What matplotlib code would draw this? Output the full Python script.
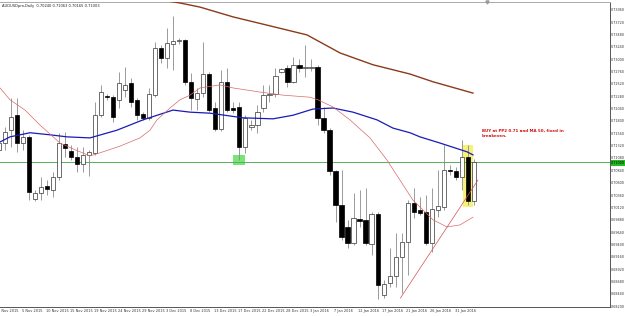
import matplotlib
matplotlib.use("Agg")
import matplotlib.pyplot as plt
import matplotlib.transforms as mtransforms
from matplotlib.patches import Rectangle
import numpy as np

# ---------------- data ----------------
title_text = "AUDUSDpro,Daily  0.70240 0.71063 0.70165 0.71003"
note_text = "BUY at PP2 0.71 and MA 50, fixed in\nbreakeven."

first_bar = -1  # bar index of the first candle (1 Nov 2015)
opens = [
    .7124, .7137, .7162, .7191, .7137, .7149, .7028, .7040, .7054, .7046,
    .7071, .7135, .7122, .7110, .7096, .7114, .7118, .7191, .7228, .7226,
    .7221, .7240, .7254, .7221, .7193, .7186, .7230, .7322, .7302, .7329,
    .7335, .7337, .7256, .7223, .7234, .7271, .7205, .7164, .7256, .7205,
    .7207, .7129, .7168, .7172, .7205, .7230, .7232, .7275, .7283, .7256,
    .7289, .7283, .7282, .7285, .7186, .7162, .7083, .7017, .6974, .6943,
    .6990, .6988, .6941, .6999, .6842, .6865, .6879, .6916, .6945, .7021,
    .7007, .7003, .6943, .7007, .7013, .7085, .7083, .7071, .7110, .70240]
highs = [
    .7143, .7168, .7225, .7225, .7162, .7153, .7046, .7071, .7065, .7081,
    .7157, .7158, .7133, .7129, .7129, .7124, .7217, .7250, .7232, .7230,
    .7275, .7285, .7263, .7225, .7197, .7244, .7333, .7327, .7360, .7384,
    .7341, .7339, .7273, .7244, .7333, .7275, .7217, .7279, .7283, .7217,
    .7217, .7191, .7182, .7211, .7250, .7250, .7283, .7283, .7289, .7304,
    .7300, .7327, .7300, .7289, .7207, .7166, .7085, .7085, .6988, .7040,
    .7046, .7050, .7003, .7003, .6871, .6933, .6962, .6962, .7026, .7050,
    .7032, .7036, .7050, .7085, .7133, .7094, .7091, .7143, .7133, .71063]
lows = [
    .7118, .7124, .7129, .7120, .7124, .7026, .7024, .7026, .7036, .7032,
    .7065, .7110, .7104, .7081, .7081, .7073, .7114, .7188, .7221, .7178,
    .7205, .7226, .7207, .7182, .7182, .7182, .7226, .7292, .7283, .7279,
    .7329, .7250, .7201, .7201, .7226, .7197, .7160, .7160, .7197, .7195,
    .7104, .7118, .7162, .7157, .7197, .7217, .7226, .7273, .7246, .7254,
    .7275, .7265, .7277, .7172, .7157, .7075, .6984, .6949, .6933, .6939,
    .6974, .6939, .6920, .6834, .6836, .6857, .6857, .6846, .6881, .6991,
    .6997, .6939, .6925, .6993, .7007, .7075, .7065, .7046, .7017, .70165]
closes = [
    .7137, .7158, .7188, .7137, .7149, .7042, .7040, .7052, .7048, .7071,
    .7137, .7127, .7110, .7096, .7114, .7120, .7191, .7236, .7226, .7188,
    .7254, .7250, .7217, .7191, .7186, .7232, .7322, .7302, .7331, .7335,
    .7337, .7256, .7225, .7234, .7271, .7201, .7164, .7256, .7201, .7201,
    .7129, .7186, .7172, .7197, .7230, .7232, .7267, .7281, .7256, .7289,
    .7283, .7285, .7285, .7186, .7162, .7083, .7017, .6955, .6943, .6991,
    .6986, .6943, .6999, .6861, .6863, .6879, .6916, .6945, .7021, .7003,
    .7001, .6943, .7009, .7015, .7085, .7083, .7071, .7110, .7024, .71003]

# moving averages (bar index, price)
ma_fast_idx = [-0.83, 0.83, 3.33, 5.82, 9.15, 11.65, 14.14, 15.81, 19.13, 22.46,
               24.13, 25.29, 27.45, 29.12, 30.78, 32.45, 35.77, 37.94, 42.43, 46.26,
               50.75, 52.08, 54.58, 57.40, 60.73, 63.56, 65.72, 67.89, 71.21, 73.54,
               75.71, 77.87]
ma_fast_val = [.7244, .7221, .7201, .7172, .7137, .7124, .7112, .7118, .7131, .7147,
               .7162, .7182, .7205, .7221, .7230, .7244, .7250, .7244, .7236, .7230,
               .7226, .7221, .7207, .7182, .7147, .7104, .7065, .7026, .6988, .6974,
               .6978, .6993]
ma50_idx = [-0.83, 0.83, 4.16, 7.49, 10.32, 14.14, 18.64, 22.96, 27.95, 30.78,
            34.11, 39.60, 44.59, 47.92, 51.25, 54.58, 57.90, 61.90, 64.56, 67.39,
            69.05, 72.38, 76.87, 77.87]
ma50_val = [.7139, .7149, .7157, .7153, .7149, .7147, .7162, .7182, .7201, .7197,
            .7195, .7186, .7184, .7191, .7203, .7205, .7197, .7182, .7166, .7157,
            .7149, .7137, .7120, .7114]
ma200_idx = [20.0, 25.79, 29.12, 32.45, 37.94, 43.59, 50.25, 55.74, 61.23, 67.39,
             71.21, 77.87]
ma200_val = [.7427, .7415, .7409, .7401, .7382, .7366, .7347, .7312, .7289, .7271,
             .7256, .7234]

trend_idx = [65.8, 78.7]
trend_val = [.6836, .7065]

pp2_level = 0.7100
signal_bar = 77
support_bar = 39

date_labels = ["1 Nov 2015", "5 Nov 2015", "10 Nov 2015", "15 Nov 2015", "19 Nov 2015",
               "24 Nov 2015", "29 Nov 2015", "3 Dec 2015", "8 Dec 2015", "13 Dec 2015",
               "17 Dec 2015", "22 Dec 2015", "28 Dec 2015", "3 Jan 2016", "7 Jan 2016",
               "12 Jan 2016", "17 Jan 2016", "21 Jan 2016", "26 Jan 2016", "31 Jan 2016"]
date_label_idx = [-1, 3, 7, 11, 15, 19, 23, 27, 31, 35, 39, 43, 47, 51, 55, 59, 63, 67, 71, 75]

price_ticks = [0.6820 + 0.0024 * k for k in range(25)]

# ---------------- figure ----------------
W, H = 625, 316
fig = plt.figure(figsize=(W / 100, H / 100), dpi=100)
fig.patch.set_facecolor("white")
ax = fig.add_axes([0, 9 / H, 610 / W, 305 / H])
ax.set_facecolor("white")
ax.set_xlim(-0.832, 100.67)
ax.set_ylim(0.68186, 0.74109)

idx = np.arange(first_bar, first_bar + len(opens))
o = np.array(opens); h = np.array(highs); l = np.array(lows); c = np.array(closes)

# highlight objects
k = signal_bar - first_bar
ax.add_patch(Rectangle((signal_bar - 0.75, l[k] - 0.0004), 1.55, h[k] - l[k] + 0.0004,
                       facecolor="#F8F06A", edgecolor="none", alpha=0.9, zorder=1))
ks = support_bar - first_bar
ax.add_patch(Rectangle((support_bar - 1.05, l[ks] - 0.0010), 2.0, 0.0020,
                       facecolor="#6BE36B", edgecolor="none", alpha=0.9, zorder=1))

# candles
ax.vlines(idx, l, h, color="#8a8a8a", lw=0.6, zorder=2)
bw = 0.7
for i, oo, cc in zip(idx, o, c):
    bottom = min(oo, cc)
    height = max(abs(cc - oo), 0.00006)
    if cc >= oo:
        ax.bar(i, height, bw, bottom=bottom, facecolor="white", edgecolor="#333333",
               linewidth=0.5, zorder=3)
    else:
        ax.bar(i, height, bw, bottom=bottom, facecolor="black", edgecolor="black",
               linewidth=0.5, zorder=3)

# indicators
ax.plot(ma200_idx, ma200_val, color="#8B3A1A", lw=1.0, zorder=4)
ax.plot(ma50_idx, ma50_val, color="#1a1ab8", lw=0.9, zorder=4)
ax.plot(ma_fast_idx, ma_fast_val, color="#d86a6a", lw=0.5, zorder=4)
ax.plot(trend_idx, trend_val, color="#d05050", lw=0.5, zorder=4)
ax.axhline(pp2_level, color="#55b055", lw=0.7, zorder=2)

# texts
ax.text(0.004, 0.992, title_text, transform=ax.transAxes, fontsize=2.6,
        va="top", ha="left", color="#222222")
ax.text(79.3, 0.7164, note_text, fontsize=2.85, color="#d01010", fontweight="bold",
        va="top", ha="left", linespacing=1.3)

# chart-shift marker at the top
ax.plot([0.798], [1.0], marker="v", color="#999999", ms=2.2, transform=ax.transAxes,
        clip_on=False, zorder=5)

# spines / axes
for s in ["top", "bottom", "right"]:
    ax.spines[s].set_color("#555555")
    ax.spines[s].set_linewidth(0.7)
ax.spines["left"].set_visible(False)
ax.spines["top"].set_color("#aaaaaa")

ax.yaxis.tick_right()
ax.set_yticks(price_ticks)
ax.set_yticklabels([f"{v:.5f}" for v in price_ticks])
ax.tick_params(axis="y", which="both", labelsize=2.4, length=0, width=0.4,
               pad=0.6, colors="#333333")
ax.set_xticks([])

trans = mtransforms.blended_transform_factory(ax.transData, ax.transAxes)
for pos, lab in zip(date_label_idx, date_labels):
    ax.text(pos - 0.2, -0.012, lab, transform=trans, fontsize=2.5, ha="left",
            va="center", color="#333333", clip_on=False)

transy = mtransforms.blended_transform_factory(ax.transAxes, ax.transData)
ax.text(1.002, pp2_level - 0.0002, f"{pp2_level:.5f}", transform=transy, fontsize=2.4,
        ha="left", va="center", color="black",
        bbox=dict(boxstyle="square,pad=0.2", facecolor="#22bb22", edgecolor="none"))

fig.savefig("out.png", dpi=100, facecolor="white")
